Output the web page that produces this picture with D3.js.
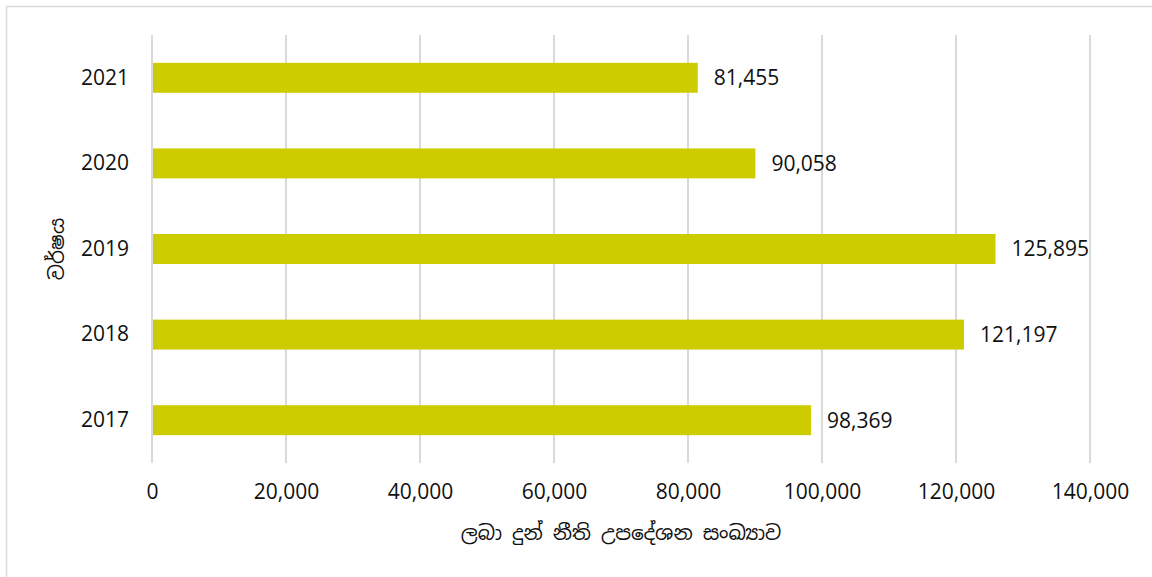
<!DOCTYPE html>
<html>
<head>
<meta charset="utf-8">
<script src="https://cdn.jsdelivr.net/npm/d3@7"></script>
<style>
  body { margin: 0; background: #fff; }
  svg { display: block; }
  .num { font-family: "Open Sans", Lato, sans-serif; font-size: 21px; fill: #111; }
  .title { font-family: "Noto Sans Sinhala", "Iskoola Pota", "Noto Sans", sans-serif; font-size: 20px; fill: #111; }
</style>
</head>
<body>
<div id="chart"></div>
<script>
const years = ["2021", "2020", "2019", "2018", "2017"];
const counts = [81455, 90058, 125895, 121197, 98369];
const xTicks = [0, 20000, 40000, 60000, 80000, 100000, 120000, 140000];
const xTitle = "ලබා දුන් නීති උපදේශන සංඛ්‍යාව";
const yTitle = "වර්ෂය";

const W = 1152, H = 577;
const margin = {top: 35, right: 62, bottom: 114, left: 152};
const width = W - margin.left - margin.right;
const height = H - margin.top - margin.bottom;

const svg = d3.select("#chart").append("svg").attr("width", W).attr("height", H);

// outer chart border
svg.append("rect")
  .attr("x", 6.5).attr("y", 6.5)
  .attr("width", W).attr("height", H)
  .attr("fill", "none").attr("stroke", "#d9d9d9").attr("stroke-width", 1.5);

const g = svg.append("g").attr("transform", `translate(${margin.left},${margin.top})`);

const x = d3.scaleLinear().domain([0, 140000]).range([0, width]);
const y = d3.scaleBand().domain(years).range([0, height]).paddingInner(0.65).paddingOuter(0.325);

// gridlines
g.selectAll(".grid")
  .data(xTicks)
  .enter().append("line")
    .attr("class", "grid")
    .attr("x1", d => x(d)).attr("x2", d => x(d))
    .attr("y1", 0).attr("y2", height)
    .attr("stroke", "#d9d9d9").attr("stroke-width", 2);

// x axis
const xAxis = g.append("g")
  .attr("transform", `translate(0,${height})`)
  .call(d3.axisBottom(x).tickValues(xTicks).tickFormat(d3.format(",")).tickSize(0).tickPadding(21));
xAxis.select(".domain").remove();
xAxis.attr("font-family", null).attr("font-size", null);
xAxis.selectAll("text").attr("class", "num").attr("fill", null);

// y axis
const yAxis = g.append("g")
  .call(d3.axisLeft(y).tickSize(0).tickPadding(23));
yAxis.select(".domain").remove();
yAxis.attr("font-family", null).attr("font-size", null);
yAxis.selectAll("text").attr("class", "num").attr("fill", null);

// bars
g.selectAll(".bar")
  .data(years)
  .enter().append("rect")
    .attr("class", "bar")
    .attr("x", x(0) + 1)
    .attr("y", d => y(d))
    .attr("width", (d, i) => x(counts[i]) - x(0) - 1)
    .attr("height", y.bandwidth())
    .attr("fill", "#cccc00");

// value labels
g.selectAll(".label")
  .data(years)
  .enter().append("text")
    .attr("class", "label num")
    .attr("x", (d, i) => x(counts[i]) + 16)
    .attr("y", d => y(d) + y.bandwidth() / 2)
    .attr("dy", "0.35em")
    .text((d, i) => d3.format(",")(counts[i]));

// axis titles
g.append("text")
  .attr("class", "title")
  .attr("x", width / 2)
  .attr("y", height + 77)
  .attr("text-anchor", "middle")
  .text(xTitle);

svg.append("text")
  .attr("class", "title")
  .attr("transform", `translate(64,${margin.top + height / 2}) rotate(-90)`)
  .attr("text-anchor", "middle")
  .text(yTitle);
</script>
</body>
</html>
